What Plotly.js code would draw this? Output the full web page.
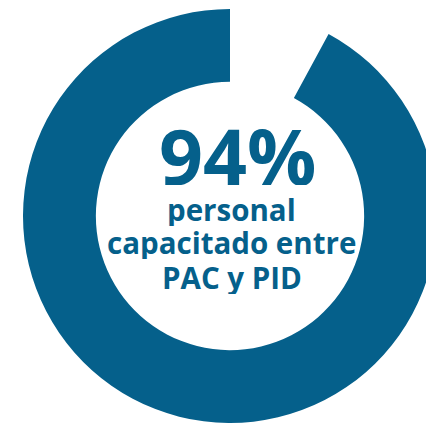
<!DOCTYPE html>
<html>
<head>
<meta charset="utf-8">
<script src="https://cdn.plot.ly/plotly-3.0.1.min.js"></script>
<style>
html,body{margin:0;padding:0;overflow:hidden;background:#fff;}
#chart{width:440px;height:424px;}
</style>
</head>
<body>
<div id="chart"></div>
<script>
const labels = ["Sin capacitar", "Capacitado"];
const values = [7.9, 92.1];
const colors = ["#ffffff", "#05608b"];
const bigLabel = "94%";
const subLines = ["personal", "capacitado entre", "PAC y PID"];

const W = 440, H = 424;
const cx = 230, cy = 216, R = 207;
const blue = "#05608b";

const data = [{
  type: "pie",
  labels: labels,
  values: values,
  sort: false,
  direction: "clockwise",
  rotation: 0,
  hole: 0.648,
  marker: {colors: colors, line: {width: 0}},
  textinfo: "none",
  hoverinfo: "none",
  domain: {x: [(cx - R) / W, (cx + R) / W], y: [1 - (cy + R) / H, 1 - (cy - R) / H]}
}];

const annotations = [
  {text: "<b>" + bigLabel + "</b>", x: 237 / W, y: 1 - 155 / H, size: 77, h: 60},
  {text: "<b>" + subLines[0] + "</b>", x: 232 / W, y: 1 - 210 / H, size: 29.5, h: 33},
  {text: "<b>" + subLines[1] + "</b>", x: 232 / W, y: 1 - 243 / H, size: 29.5, h: 33},
  {text: "<b>" + subLines[2] + "</b>", x: 232 / W, y: 1 - 277 / H, size: 29.5, h: 33}
].map(a => ({
  text: a.text, x: a.x, y: a.y, xref: "paper", yref: "paper",
  xanchor: "center", yanchor: "middle", showarrow: false,
  height: a.h, valign: "middle", borderpad: 0,
  font: {family: "Open Sans, sans-serif", size: a.size, color: blue}
}));

const layout = {
  width: W, height: H,
  margin: {l: 0, r: 0, t: 0, b: 0},
  paper_bgcolor: "#ffffff",
  showlegend: false,
  annotations: annotations
};

Plotly.newPlot("chart", data, layout, {staticPlot: true, displayModeBar: false});
</script>
</body>
</html>
